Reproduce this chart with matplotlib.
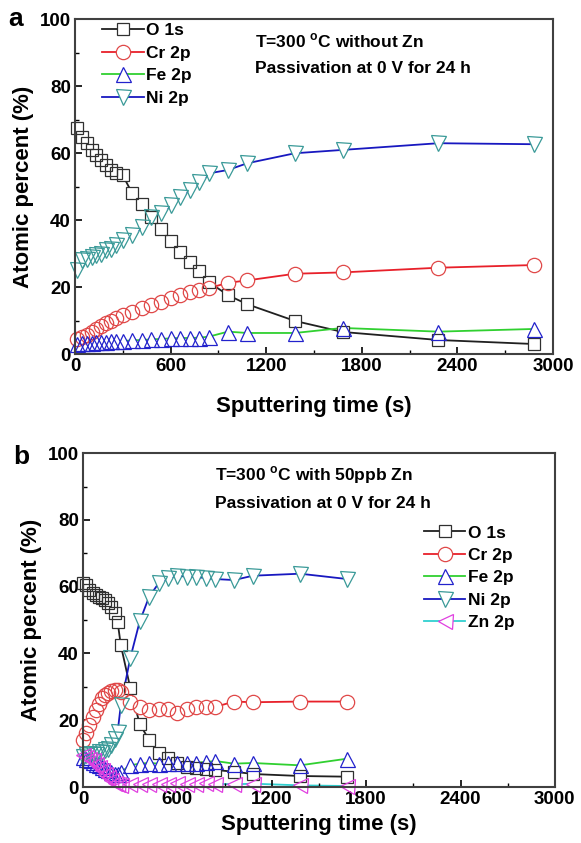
import matplotlib
matplotlib.use("Agg")
import matplotlib.pyplot as plt
from matplotlib.ticker import MultipleLocator
from matplotlib.lines import Line2D

plt.rcParams['font.family'] = ['Liberation Sans', 'DejaVu Sans']
plt.rcParams['font.weight'] = 'bold'
plt.rcParams['mathtext.fontset'] = 'custom'
plt.rcParams['mathtext.rm'] = 'Liberation Sans:bold'
plt.rcParams['mathtext.bf'] = 'Liberation Sans:bold'

# (a) 300 C, no Zn
time_a = [15, 45, 75, 105, 135, 165, 195, 225, 255, 300, 360, 420, 480, 540,
          600, 660, 720, 780, 840, 960, 1080, 1380, 1680, 2280, 2880]
o1s_a = [67.5, 65, 63, 61, 59.5, 58, 56.5, 55, 54, 53.4, 48, 44.8, 41, 37.3,
         33.7, 30.4, 27.5, 24.8, 21.5, 17.6, 14.9, 9.9, 6.6, 4.2, 3.0]
cr2p_a = [4.5, 5.2, 5.8, 6.6, 7.4, 8.3, 9.2, 10.0, 10.8, 11.6, 12.6, 13.7, 14.6, 15.6,
          16.7, 17.6, 18.6, 19.1, 19.7, 21.3, 22.0, 24.0, 24.4, 25.8, 26.6]
fe2p_a = [3.0, 3.2, 3.3, 3.4, 3.5, 3.6, 3.7, 3.8, 3.9, 3.9, 4.1, 4.2, 4.4, 4.5,
          4.7, 4.8, 4.8, 4.9, 5.2, 6.7, 6.3, 6.3, 7.8, 6.7, 7.5]
ni2p_a = [25, 28, 28.5, 29, 29.5, 30, 31, 31.5, 32.5, 34, 35.5, 38, 41, 42,
          44.5, 47, 49, 51.3, 54, 55, 57, 60, 61, 63, 62.7]

# (b) 300 C, 50 ppb Zn
time_b = [0, 20, 40, 60, 80, 100, 120, 140, 160, 180, 200, 220, 240, 300, 360,
          420, 480, 540, 600, 660, 720, 780, 840, 960, 1080, 1380, 1680]
o1s_b = [61, 60.5, 59, 58, 57.5, 57, 56.5, 56, 55, 54, 52, 49.3, 42.5, 29.7, 18.9,
         14.1, 10.1, 8.6, 7.1, 6.1, 5.6, 5.3, 5.1, 4.6, 3.9, 3.3, 3.1]
cr2p_b = [14, 16.1, 18.6, 21, 23, 24.9, 26.6, 27.5, 28.1, 28.8, 29.2, 29, 28.4, 25.5, 24,
          23, 23.5, 23.3, 22.2, 23.3, 24, 24, 24, 25.6, 25.4, 25.6, 25.6]
fe2p_b = [9, 8.5, 8, 7.5, 7, 6.5, 6, 5.5, 5, 4.5, 4, 3.8, 4.5, 6.5, 7,
          7.2, 7, 7.2, 7.3, 7.2, 7.3, 7.5, 7.8, 7, 7.2, 6.5, 8.5]
ni2p_b = [9, 9.5, 10, 10, 10, 10.5, 10.5, 11, 11.5, 12.5, 14.5, 16.6, 24.6, 38.6, 49.6,
          57, 61, 62.6, 63.3, 63, 62.9, 62.6, 62.3, 62, 63.3, 63.9, 62.3]
zn2p_b = [9.5, 9, 8.5, 8, 7, 6, 5, 4, 3, 2, 1.2, 0.8, 0.6, 0.8, 1,
          1, 1, 1, 1.1, 1, 1, 1.1, 1.0, 0.8, 1.0, 0.5, 0.3]

styles = {
    'O 1s': dict(color='#202020', marker='s', mec='#303030', ms=9.3),
    'Cr 2p': dict(color='#e8202a', marker='o', mec='#e04848', ms=10.3),
    'Fe 2p': dict(color='#30d030', marker='^', mec='#2222cc', ms=10.8),
    'Ni 2p': dict(color='#1818c0', marker='v', mec='#3a9a98', ms=10.8),
    'Zn 2p': dict(color='#30d0d0', marker='<', mec='#e040e0', ms=10.8),
}


def draw_series(ax, x, y, name):
    # line under a white mask so it stops at the symbols, then hollow symbols on top
    st = styles[name]
    ax.plot(x, y, color=st['color'], lw=1.3, zorder=1, clip_on=False)
    ax.plot(x, y, ls='none', marker=st['marker'], ms=st['ms'] - 0.8,
            mfc='white', mec='none', zorder=2, clip_on=False)
    ax.plot(x, y, ls='none', marker=st['marker'], ms=st['ms'],
            mfc='none', mec=st['mec'], mew=0.9, zorder=3, clip_on=False)


def legend_handles(names):
    hs = []
    for n in names:
        st = styles[n]
        hs.append(Line2D([], [], color=st['color'], lw=1.3, marker=st['marker'],
                         ms=st['ms'], mfc='white', mec=st['mec'], mew=0.9, label=n))
    return hs


def style_axes(ax, xpad):
    ax.set_xlim(0, 3000)
    ax.set_ylim(0, 100)
    ax.xaxis.set_major_locator(MultipleLocator(600))
    ax.xaxis.set_minor_locator(MultipleLocator(300))
    ax.yaxis.set_major_locator(MultipleLocator(20))
    ax.yaxis.set_minor_locator(MultipleLocator(10))
    ax.tick_params(which='major', direction='in', length=5, width=1.2,
                   labelsize=13.5, pad=3)
    ax.tick_params(which='minor', direction='in', length=3, width=1.0)
    for sp in ax.spines.values():
        sp.set_linewidth(1.5)
        sp.set_color('#404040')
        sp.set_zorder(4)
    ax.set_xlabel('Sputtering time (s)', fontsize=16, fontweight='bold', labelpad=xpad)
    ax.set_ylabel('Atomic percent (%)', fontsize=16, fontweight='bold', labelpad=4)


fig = plt.figure(figsize=(5.81, 8.43), dpi=100)

ax1 = fig.add_axes([0.129, 0.580, 0.823, 0.397])
for series, name in [(o1s_a, 'O 1s'), (cr2p_a, 'Cr 2p'), (fe2p_a, 'Fe 2p'), (ni2p_a, 'Ni 2p')]:
    draw_series(ax1, time_a, series, name)
style_axes(ax1, 15)
ax1.legend(handles=legend_handles(['O 1s', 'Cr 2p', 'Fe 2p', 'Ni 2p']),
           loc='upper left', bbox_to_anchor=(0.035, 1.02), frameon=False,
           fontsize=12.5, handlelength=2.4, handletextpad=0.15,
           labelspacing=0.42, borderaxespad=0.2)
ax1.text(0.377, 0.935, r'T=300 $^{\rm o}$C without Zn', transform=ax1.transAxes,
         fontsize=12.5, fontweight='bold', va='center')
ax1.text(0.377, 0.852, 'Passivation at 0 V for 24 h', transform=ax1.transAxes,
         fontsize=12.5, fontweight='bold', va='center')
fig.text(0.014, 0.977, 'a', fontsize=19, fontweight='bold', va='center')

ax2 = fig.add_axes([0.143, 0.0664, 0.812, 0.396])
for series, name in [(o1s_b, 'O 1s'), (cr2p_b, 'Cr 2p'), (fe2p_b, 'Fe 2p'),
                     (ni2p_b, 'Ni 2p'), (zn2p_b, 'Zn 2p')]:
    draw_series(ax2, time_b, series, name)
style_axes(ax2, 4)
ax2.legend(handles=legend_handles(['O 1s', 'Cr 2p', 'Fe 2p', 'Ni 2p', 'Zn 2p']),
           loc='upper left', bbox_to_anchor=(0.7, 0.815), frameon=False,
           fontsize=12.5, handlelength=2.4, handletextpad=0.15,
           labelspacing=0.42, borderaxespad=0.2)
ax2.text(0.28, 0.935, r'T=300 $^{\rm o}$C with 50ppb Zn', transform=ax2.transAxes,
         fontsize=12.5, fontweight='bold', va='center')
ax2.text(0.28, 0.85, 'Passivation at 0 V for 24 h', transform=ax2.transAxes,
         fontsize=12.5, fontweight='bold', va='center')
fig.text(0.022, 0.458, 'b', fontsize=19, fontweight='bold', va='center')

fig.savefig('out.png', dpi=100)
